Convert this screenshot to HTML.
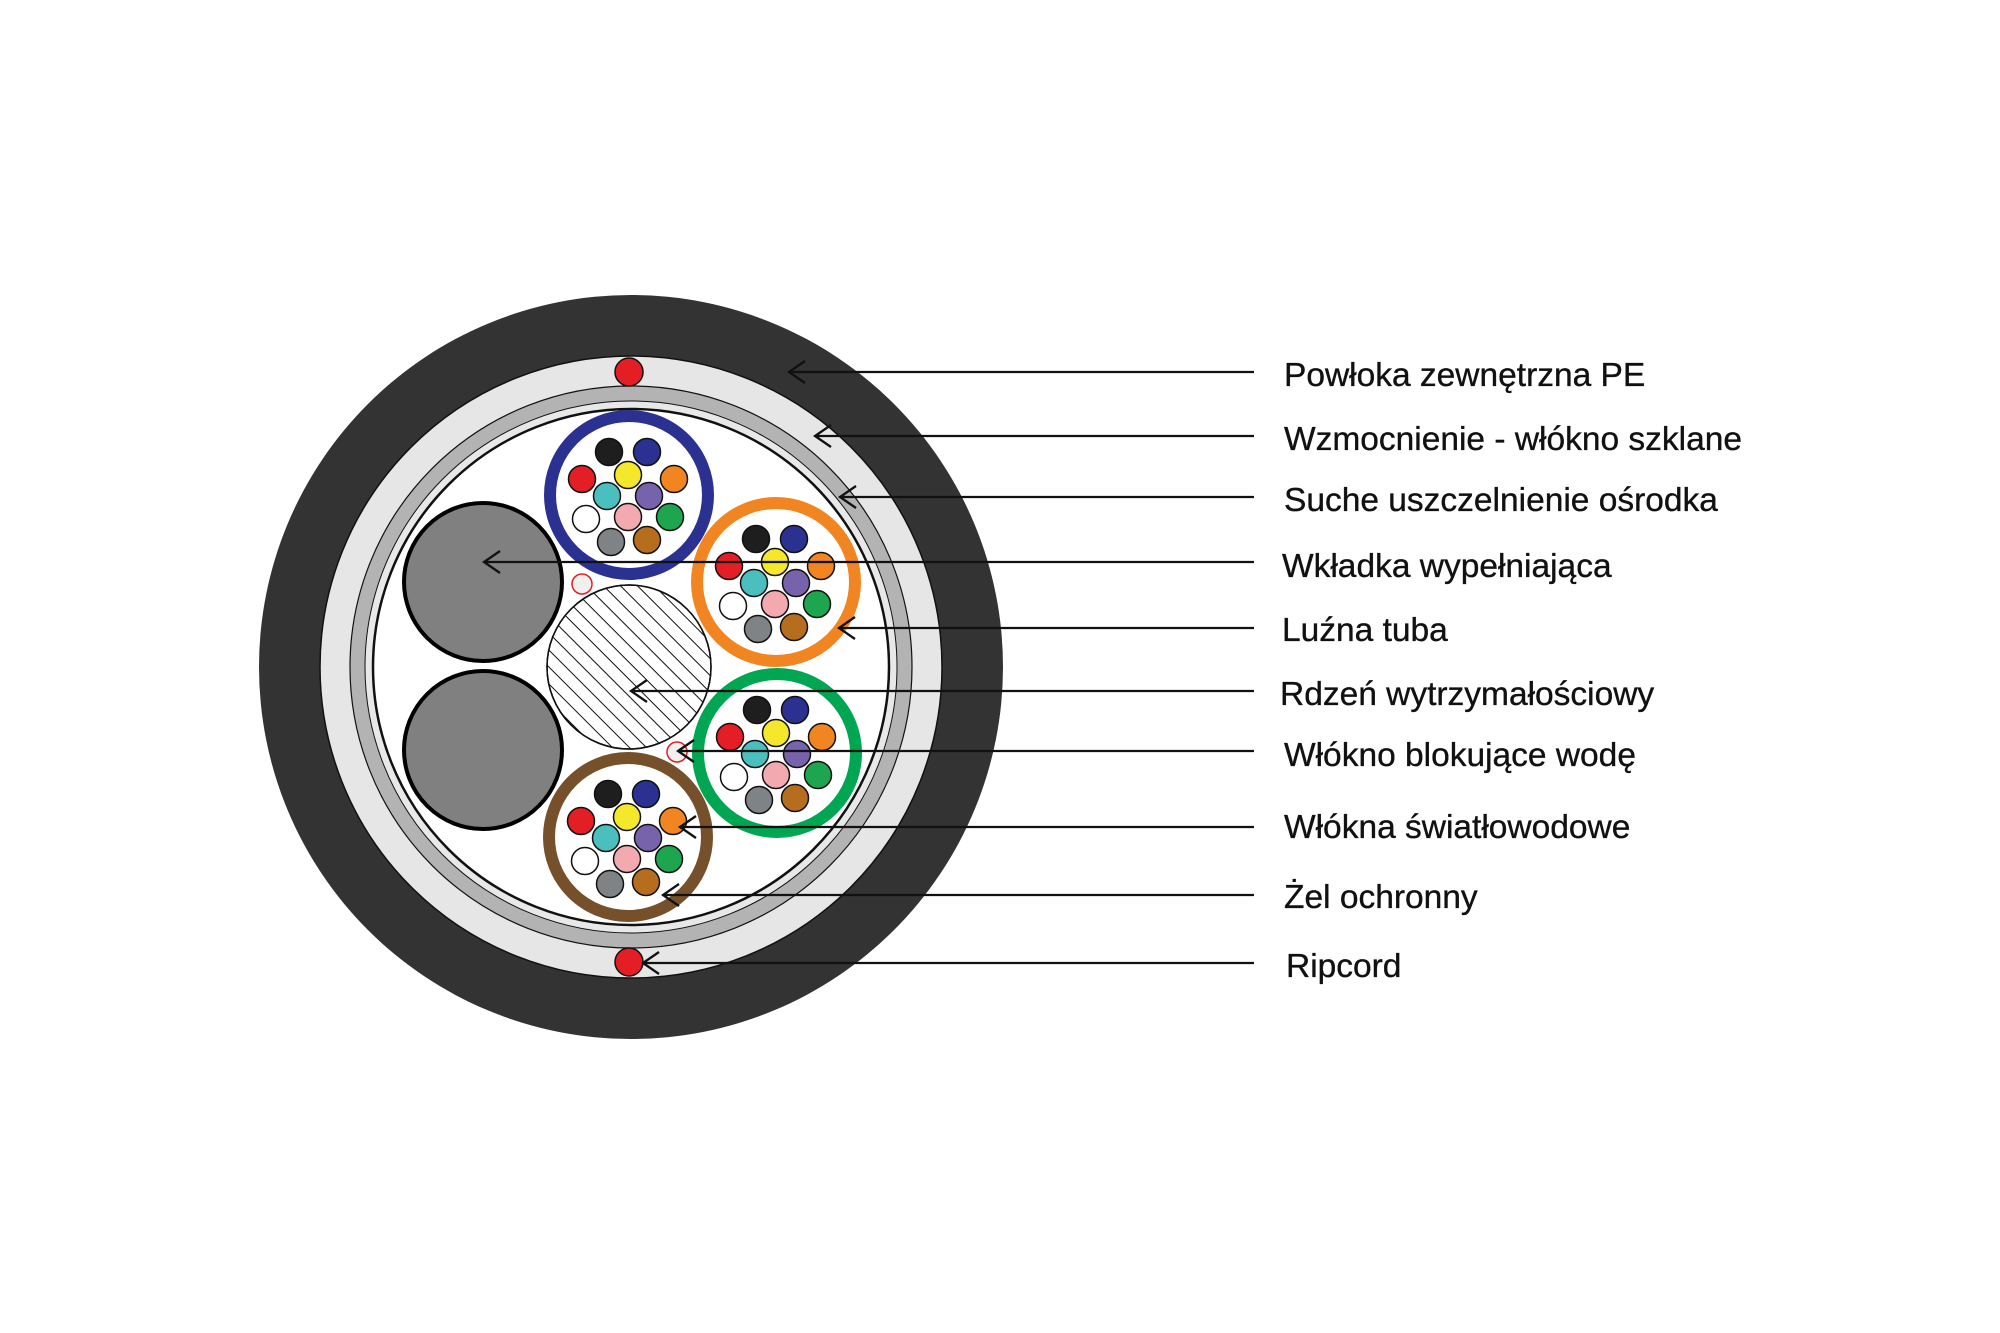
<!DOCTYPE html>
<html><head><meta charset="utf-8"><style>
html,body{margin:0;padding:0;background:#fff}
svg{display:block}
text{font-family:"Liberation Sans",sans-serif;font-size:33.5px;fill:#111;stroke:#111;stroke-width:0.35}
</style></head><body>
<svg width="2000" height="1333" viewBox="0 0 2000 1333" xmlns="http://www.w3.org/2000/svg">
<defs>
<pattern id="h" width="12" height="12" patternUnits="userSpaceOnUse" patternTransform="rotate(-45)">
<line x1="0" y1="0" x2="0" y2="12" stroke="#111" stroke-width="2"/>
</pattern>
<g id="fib">
<g stroke="#111" stroke-width="1.5">
<circle cx="-20" cy="-43" r="13.5" fill="#1e1e1e"/>
<circle cx="18" cy="-43" r="13.5" fill="#2b3190"/>
<circle cx="-47" cy="-16" r="13.5" fill="#e31e25"/>
<circle cx="-1" cy="-20" r="13.5" fill="#f5e72a"/>
<circle cx="45" cy="-16" r="13.5" fill="#f08522"/>
<circle cx="-22" cy="1" r="13.5" fill="#4bbfbd"/>
<circle cx="20" cy="1" r="13.5" fill="#7763ab"/>
<circle cx="-43" cy="24" r="13.5" fill="#ffffff"/>
<circle cx="-1" cy="22" r="13.5" fill="#f2a9b0"/>
<circle cx="41" cy="22" r="13.5" fill="#1ea550"/>
<circle cx="-18" cy="47" r="13.5" fill="#808385"/>
<circle cx="18" cy="45" r="13.5" fill="#b66e1e"/>
</g>
</g>
</defs>
<circle cx="631" cy="667" r="372" fill="#333"/>
<circle cx="631" cy="667" r="311" fill="#e6e6e6" stroke="#111" stroke-width="1.5"/>
<circle cx="631" cy="667" r="281" fill="#b3b3b3" stroke="#111" stroke-width="1.2"/>
<circle cx="631" cy="667" r="266" fill="#e8e8e8" stroke="#111" stroke-width="1"/>
<circle cx="631" cy="667" r="258" fill="#fff" stroke="#111" stroke-width="2.5"/>
<circle cx="629" cy="372" r="14" fill="#e31e25" stroke="#111" stroke-width="1.5"/>
<circle cx="629" cy="962" r="14" fill="#e31e25" stroke="#111" stroke-width="1.5"/>
<circle cx="483" cy="582" r="79" fill="#808080" stroke="#000" stroke-width="4"/>
<circle cx="483" cy="750" r="79" fill="#808080" stroke="#000" stroke-width="4"/>
<circle cx="629" cy="667" r="82" fill="#fff" stroke="#111" stroke-width="1.5"/>
<circle cx="629" cy="667" r="82" fill="url(#h)" stroke="#111" stroke-width="1.5"/>
<circle cx="582" cy="584" r="10" fill="#f0f0f0" stroke="#e31e25" stroke-width="1.5"/>
<circle cx="677" cy="752" r="10" fill="#f0f0f0" stroke="#e31e25" stroke-width="1.5"/>
<circle cx="629" cy="495" r="79" fill="#fff" stroke="#2b3190" stroke-width="12"/>
<use href="#fib" x="629" y="495"/>
<circle cx="776" cy="582" r="79" fill="#fff" stroke="#f08522" stroke-width="12"/>
<use href="#fib" x="776" y="582"/>
<circle cx="777" cy="753" r="79" fill="#fff" stroke="#00a651" stroke-width="12"/>
<use href="#fib" x="777" y="753"/>
<circle cx="628" cy="837" r="79" fill="#fff" stroke="#75502a" stroke-width="12"/>
<use href="#fib" x="628" y="837"/>
<g stroke="#111" stroke-width="2.3" fill="none">
<path d="M1254 372H789M805 361L789 372L805 383"/>
<path d="M1254 436H815M831 425L815 436L831 447"/>
<path d="M1254 497H840M856 486L840 497L856 508"/>
<path d="M1254 562H484M500 551L484 562L500 573"/>
<path d="M1254 628H839M855 617L839 628L855 639"/>
<path d="M1254 691H631M647 680L631 691L647 702"/>
<path d="M1254 751H678M694 740L678 751L694 762"/>
<path d="M1254 827H680M696 816L680 827L696 838"/>
<path d="M1254 895H663M679 884L663 895L679 906"/>
<path d="M1254 963H643M659 952L643 963L659 974"/>
</g>
<g>
<text x="1284" y="386">Powłoka zewnętrzna PE</text>
<text x="1284" y="450">Wzmocnienie - włókno szklane</text>
<text x="1284" y="511">Suche uszczelnienie ośrodka</text>
<text x="1282" y="577">Wkładka wypełniająca</text>
<text x="1282" y="641">Luźna tuba</text>
<text x="1280" y="705">Rdzeń wytrzymałościowy</text>
<text x="1284" y="766">Włókno blokujące wodę</text>
<text x="1284" y="838">Włókna światłowodowe</text>
<text x="1284" y="908">Żel ochronny</text>
<text x="1286" y="977">Ripcord</text>
</g>
</svg>
</body></html>
